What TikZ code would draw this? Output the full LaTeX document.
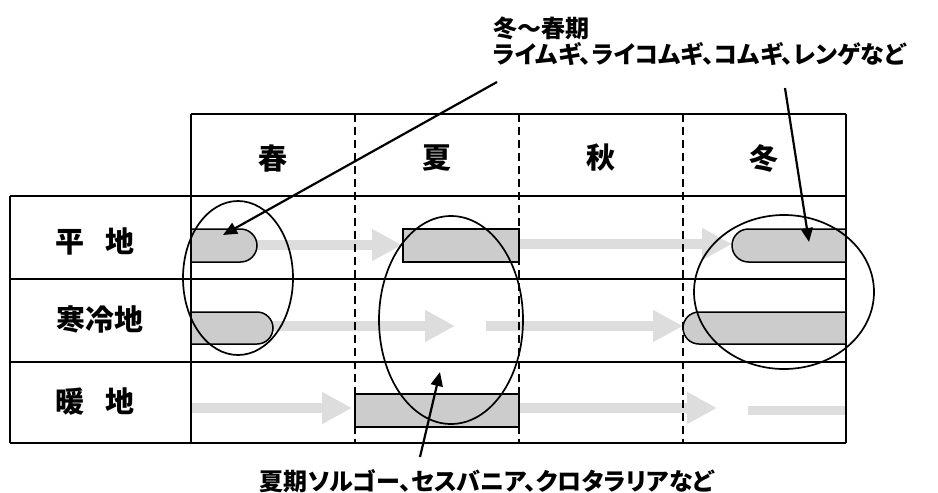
\documentclass[tikz,border=0pt]{standalone}
\usepackage{fontspec}
\setmainfont{Noto Sans CJK JP}
\newfontfamily\jpp{Noto Sans CJK JP}[RawFeature=+palt]
\usetikzlibrary{arrows.meta}
\definecolor{barg}{HTML}{CCCCCC}
\definecolor{flowg}{HTML}{DDDDDD}
\begin{document}
\begin{tikzpicture}[x=1pt,y=-1pt,
  tline/.style={line width=1.6pt},
  dline/.style={line width=1.5pt, dash pattern=on 8pt off 5pt},
  bar/.style={fill=barg, draw=black, line width=1.5pt},
  flow/.style={draw=flowg, line width=10pt, -{Triangle[length=30pt,width=30pt]}},
  band/.style={draw=flowg, line width=9pt},
  ring/.style={draw=black, line width=1.7pt},
  ptr/.style={line width=2.2pt, -{Triangle[length=14pt,width=12pt]}},
  head/.style={font=\fontsize{29}{31}\selectfont\bfseries, inner sep=0pt},
  note/.style={font=\jpp\fontsize{24}{26}\selectfont\bfseries, align=left, inner sep=0pt},
]
\useasboundingbox (0,0) rectangle (938,493);
\fill[white] (0,0) rectangle (938,493);

% light flow arrows
\draw[flow] (257,245) -- (402,245);
\draw[flow] (519,244) -- (732,244);
\draw[flow] (273,326) -- (455,326);
\draw[flow] (486,326) -- (683,326);
\draw[flow] (192,408) -- (352,408);
\draw[flow] (519,408) -- (717,408);
\draw[band] (748,410) -- (846,410);

% dashed season dividers
\draw[dline] (355,114) -- (355,443);
\draw[dline] (519,114) -- (519,443);
\draw[dline] (683,114) -- (683,443);

% bars
\filldraw[bar] (191,229) -- (240.5,229) arc[start angle=-90,end angle=90,radius=16.5] -- (191,262) -- cycle;
\filldraw[bar] (403,229) rectangle (519,262);
\filldraw[bar] (846,229) -- (748.5,229) arc[start angle=-90,end angle=-270,radius=16.5] -- (846,262) -- cycle;
\filldraw[bar] (191,312) -- (257,312) arc[start angle=-90,end angle=90,radius=16] -- (191,344) -- cycle;
\filldraw[bar] (846,312) -- (699,312) arc[start angle=-90,end angle=-270,radius=16] -- (846,344) -- cycle;
\filldraw[bar] (355,394) rectangle (519,427);

% table
\draw[tline] (191,114) -- (846,114);
\draw[tline] (10,196) -- (846,196);
\draw[tline] (10,279) -- (846,279);
\draw[tline] (10,362) -- (846,362);
\draw[tline] (10,443) -- (846,443);
\draw[tline] (10,196) -- (10,443);
\draw[tline] (191,114) -- (191,443);
\draw[tline] (846,114) -- (846,443);

% header and row labels
\node[head] (spring) at (273,158) {春};
\node[head] (summer) at (437,158) {夏};
\node[head] (autumn) at (601,158) {秋};
\node[head] (winter) at (764,158) {冬};
\node[head] (plain) at (95,241) {平\hspace{0.7em}地};
\node[head] (cold) at (100,319) {寒冷地};
\node[head] (warm) at (95,402) {暖\hspace{0.7em}地};

% ellipses
\draw[ring] (238,278) ellipse[x radius=55, y radius=77];
\draw[ring] (451,320) ellipse[x radius=72, y radius=104];
\draw[ring] (784,292) ellipse[x radius=90, y radius=77];

% notes
\node[note, anchor=north west] (wnote) at (493,17) {冬〜春期\\ライムギ、ライコムギ、コムギ、レンゲなど};
\node[note] (snote) at (487,481) {夏期ソルゴー、セスバニア、クロタラリアなど};

% pointers
\coordinate (p1s) at (497,82);
\coordinate (p1e) at (223,235);
\coordinate (p2s) at (785,88);
\coordinate (p2e) at (809,242);
\coordinate (p3s) at (420,457);
\coordinate (p3e) at (440,372);
\draw[ptr] (p1s) -- (p1e);
\draw[ptr] (p2s) -- (p2e);
\draw[ptr] (p3s) -- (p3e);
\end{tikzpicture}
\end{document}
